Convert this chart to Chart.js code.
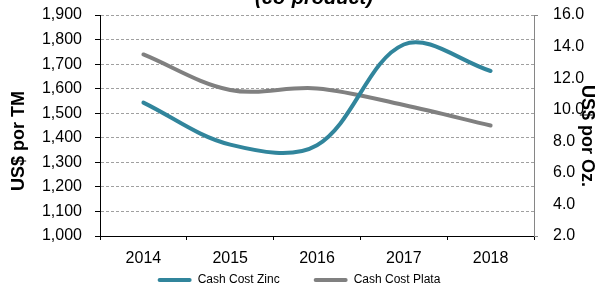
<!DOCTYPE html>
<html>
<head>
<meta charset="utf-8">
<script src="https://cdn.jsdelivr.net/npm/chart.js@4/dist/chart.umd.min.js"></script>
<style>
  html, body { margin: 0; padding: 0; background: #fff; }
  #wrap { width: 598px; height: 287px; }
</style>
</head>
<body>
<div id="wrap"><canvas id="costChart" width="598" height="287"></canvas></div>
<script>
// datos
const years = ['2014', '2015', '2016', '2017', '2018'];
const cashCostZinc = [1543, 1372, 1370, 1780, 1672];   // US$ por TM (eje izq.)
const cashCostPlata = [13.5, 11.25, 11.35, 10.3, 9.0]; // US$ por Oz. (eje der.)

const zincColor = '#31859c';
const plataColor = '#808080';
const gridColor = '#a0a0a0';
const fontFamily = '"Liberation Sans", Arial, sans-serif';

// subir la leyenda (el padding grande de las etiquetas la empuja hacia abajo)
const legendShift = {
    id: 'legendShift',
    afterLayout(chart) {
        const lg = chart.legend;
        if (!lg) return;
        lg.top = 240;
        lg.height = lg.bottom - lg.top;
    }
};

// título (cortado arriba) y títulos de ejes
const extraText = {
    id: 'extraText',
    afterDraw(chart) {
        const ctx = chart.ctx;
        const area = chart.chartArea;
        ctx.save();
        ctx.fillStyle = '#000';
        ctx.textAlign = 'center';
        ctx.textBaseline = 'alphabetic';
        ctx.font = 'italic bold 20px ' + fontFamily;
        ctx.fillText('(co-product)', (area.left + area.right) / 2 - 3, 4);

        ctx.font = 'bold 18px ' + fontFamily;
        ctx.textBaseline = 'middle';
        ctx.translate(19, 141);
        ctx.rotate(-Math.PI / 2);
        ctx.fillText('US$ por TM', 0, 0);
        ctx.restore();

        ctx.save();
        ctx.fillStyle = '#000';
        ctx.font = 'bold 18px ' + fontFamily;
        ctx.textAlign = 'center';
        ctx.textBaseline = 'middle';
        ctx.translate(587, 136);
        ctx.rotate(Math.PI / 2);
        ctx.fillText('US$ por Oz.', 0, 0);
        ctx.restore();
    }
};

// ancho fijo de los ejes y sin relleno extra arriba/abajo
function fixAxis(width) {
    return function (scale) {
        scale.width = width;
        scale.paddingTop = 0;
        scale.paddingBottom = 0;
    };
}

new Chart(document.getElementById('costChart'), {
    type: 'line',
    data: {
        labels: years,
        datasets: [{
            label: 'Cash Cost Zinc',
            data: cashCostZinc,
            yAxisID: 'y',
            borderColor: zincColor,
            backgroundColor: zincColor,
            borderWidth: 4,
            borderCapStyle: 'round',
            pointRadius: 0,
            tension: 0.35,
            fill: false
        }, {
            label: 'Cash Cost Plata',
            data: cashCostPlata,
            yAxisID: 'y1',
            borderColor: plataColor,
            backgroundColor: plataColor,
            borderWidth: 4,
            borderCapStyle: 'round',
            pointRadius: 0,
            tension: 0.35,
            fill: false
        }]
    },
    options: {
        responsive: false,
        animation: false,
        layout: { padding: { top: 15, left: 0, right: 0, bottom: 0 } },
        plugins: {
            tooltip: { enabled: false },
            title: { display: false },
            legend: {
                position: 'bottom',
                maxHeight: 21,
                labels: {
                    boxWidth: 34,
                    boxHeight: 4,
                    padding: 34,
                    color: '#000',
                    font: { family: fontFamily, size: 12 },
                    useBorderRadius: true,
                    borderRadius: 2,
                    generateLabels(chart) {
                        const items = Chart.defaults.plugins.legend.labels.generateLabels(chart);
                        items.forEach(it => { it.lineWidth = 0; });
                        return items;
                    }
                }
            }
        },
        scales: {
            x: {
                offset: true,
                afterFit(scale) { scale.height = 30; },
                grid: {
                    offset: true,
                    drawOnChartArea: false,
                    drawTicks: true,
                    tickLength: 4,
                    tickColor: '#000'
                },
                border: { display: true, color: '#000', width: 1 },
                ticks: {
                    color: '#000',
                    padding: 9,
                    font: { family: fontFamily, size: 16 }
                }
            },
            y: {
                position: 'left',
                min: 1000,
                max: 1900,
                afterFit: fixAxis(100),
                grid: {
                    color: gridColor,
                    drawTicks: true,
                    tickLength: 5,
                    tickColor: '#000'
                },
                border: { display: true, color: '#000', width: 1, dash: [3, 2] },
                ticks: {
                    stepSize: 100,
                    padding: 13,
                    color: '#000',
                    font: { family: fontFamily, size: 16 },
                    callback: v => v.toLocaleString('en-US')
                }
            },
            y1: {
                position: 'right',
                min: 2,
                max: 16,
                afterFit: fixAxis(64),
                grid: {
                    drawOnChartArea: false,
                    drawTicks: true,
                    tickLength: 4,
                    tickColor: ctx => (ctx.index === 0 || ctx.index === 7) ? '#868686' : 'rgba(0,0,0,0)'
                },
                border: { display: true, color: '#868686', width: 1 },
                ticks: {
                    stepSize: 2,
                    padding: 15,
                    color: '#000',
                    font: { family: fontFamily, size: 16 },
                    callback: v => v.toFixed(1)
                }
            }
        }
    },
    plugins: [legendShift, extraText]
});
</script>
</body>
</html>
